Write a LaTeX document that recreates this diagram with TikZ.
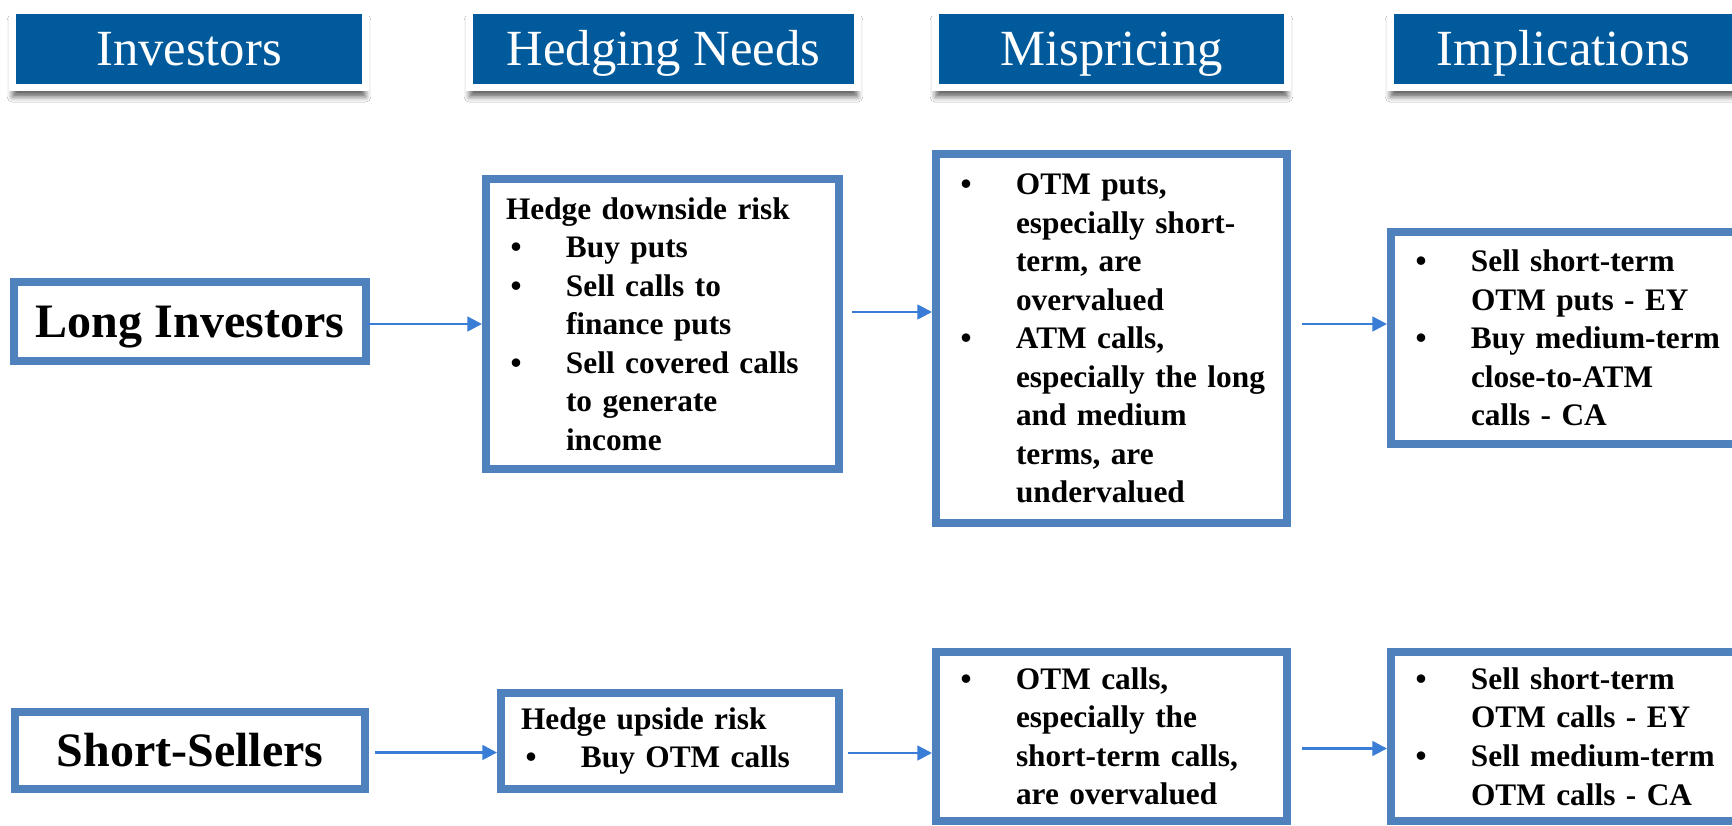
\documentclass[tikz,border=0pt]{standalone}
\usepackage{fontspec}
\setmainfont{Liberation Serif}
\usetikzlibrary{calc}
\usetikzlibrary{positioning}
\usetikzlibrary{arrows.meta, shadows.blur}

\definecolor{headblue}{RGB}{0,90,155}
\definecolor{boxblue}{RGB}{79,129,189}
\definecolor{arrowblue}{RGB}{58,125,214}

\newcommand{\bul}{\makebox[45pt][l]{\hspace{3.5pt}\textbullet}}
\newcommand{\ind}{\hspace*{45pt}}

\tikzset{
  head/.style={fill=headblue, draw=white, line width=5.25pt, text=white,
    font=\fontsize{38}{40}\selectfont, minimum height=57.75pt,
    text height=33pt, text depth=8pt, inner sep=0pt,
    blur shadow={shadow xshift=0pt, shadow yshift=-7pt, shadow blur radius=4pt, shadow opacity=60}},
  group/.style={draw=boxblue, fill=white, line width=6pt,
    font=\bfseries\fontsize{36}{40}\selectfont,
    text height=31.5pt, text depth=8pt, inner sep=0pt},
  listbox/.style={draw=boxblue, fill=white, line width=6pt,
    font=\bfseries\fontsize{23.5}{28.9}\selectfont,
    align=left, inner xsep=15pt, inner ysep=0pt},
  link/.style={arrowblue, line width=2pt, -{Triangle[length=11pt,width=11pt]}},
}

\begin{document}
\begin{tikzpicture}[x=0.75pt,y=0.75pt,yscale=-1,xscale=1]
            \useasboundingbox (0,0) rectangle (1732,825);
            \clip (0,0) rectangle (1732,825);
            \fill[white] (0,0) rectangle (1732,825);

            %Shape: Header
            \node (hinv) at (189,49) [head, minimum width=264.75pt] {Investors};
            \node (hhedge) at (663.5,49) [head, minimum width=291pt] {Hedging Needs};
            \node (hmis) at (1111.5,49) [head, minimum width=264pt] {Mispricing};
            \node (himp) at (1563.5,49) [head, minimum width=259.5pt] {Implications};

            %Shape: Rectangle (long investors row)
            \node (longinv) at (190,321.5) [group, minimum width=264pt, minimum height=59.25pt] {Long Investors};
            \node (hedgelong) at (662.5,324) [listbox, text width=234.75pt, minimum height=217.5pt]
                {Hedge downside risk\\
                 \bul Buy puts\\
                 \bul Sell calls to\\
                 \ind finance puts\\
                 \bul Sell covered calls\\
                 \ind to generate\\
                 \ind income};
            \node (mislong) at (1111.5,338.5) [listbox, text width=233.25pt, minimum height=276.75pt]
                {\bul OTM puts,\\
                 \ind especially short-\\
                 \ind term, are\\
                 \ind overvalued\\
                 \bul ATM calls,\\
                 \ind especially the long\\
                 \ind and medium\\
                 \ind terms, are\\
                 \ind undervalued};
            \node (implong) at (1575.5,338) [listbox, text width=246.75pt, minimum height=159pt]
                {\bul Sell short-term\\
                 \ind OTM puts - EY\\
                 \bul Buy medium-term\\
                 \ind close-to-ATM\\
                 \ind calls - CA};

            %Shape: Rectangle (short-sellers row)
            \node (shortsel) at (190,750.5) [group, minimum width=262.5pt, minimum height=57.75pt] {Short-Sellers};
            \node (hedgeshort) at (670,741) [listbox, text width=223.5pt, minimum height=72pt]
                {Hedge upside risk\\
                 \bul Buy OTM calls};
            \node (misshort) at (1111.5,736.5) [listbox, text width=233.25pt, minimum height=126.75pt]
                {\bul OTM calls,\\
                 \ind especially the\\
                 \ind short-term calls,\\
                 \ind are overvalued};
            \node (impshort) at (1575.5,736.5) [listbox, text width=246.75pt, minimum height=126.75pt]
                {\bul Sell short-term\\
                 \ind OTM calls - EY\\
                 \bul Sell medium-term\\
                 \ind OTM calls - CA};

            %Straight Lines
            \coordinate (a1) at ($(longinv.east)+(-3,2.5)$);
            \coordinate (a2) at ($(hedgelong.east)+(9,-12)$);
            \coordinate (a3) at ($(mislong.east)+(11,-14.5)$);
            \coordinate (b1) at ($(shortsel.east)+(6,2)$);
            \coordinate (b2) at ($(hedgeshort.east)+(5,12)$);
            \coordinate (b3) at ($(misshort.east)+(11,12)$);
            \draw[link] (a1) -- (a1 -| hedgelong.west);
            \draw[link] (a2) -- (a2 -| mislong.west);
            \draw[link] (a3) -- (a3 -| implong.west);
            \draw[link] (b1) -- (b1 -| hedgeshort.west);
            \draw[link] (b2) -- (b2 -| misshort.west);
            \draw[link] (b3) -- (b3 -| impshort.west);

\end{tikzpicture}
\end{document}
